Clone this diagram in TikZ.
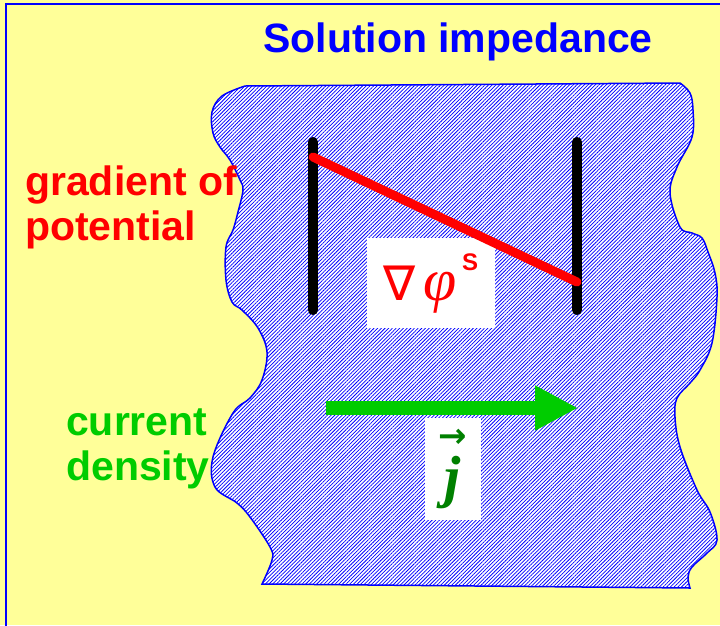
\documentclass[tikz,border=0pt]{standalone}
\definecolor{solyellow}{RGB}{255,255,153}
\definecolor{solblue}{RGB}{0,0,255}
\definecolor{solred}{RGB}{255,0,0}
\definecolor{solgreen}{RGB}{0,204,0}
\definecolor{soldkgreen}{RGB}{0,128,0}
\usepackage{fontspec}
\setmainfont{Liberation Sans}
\newfontfamily\timesfont{Liberation Serif}
\newfontfamily\nablafont{DejaVu Sans}
\usepackage{tikz}
\usetikzlibrary{arrows.meta,positioning,patterns.meta}
\tikzset{
  lbl/.style={font=\fontsize{41}{45}\selectfont\bfseries,text=#1,
              inner sep=0pt,align=left},
  lbl/.default=solred,
  blob/.style={draw=solblue,line width=1.5pt,preaction={fill=white},
               pattern={Lines[angle=45,distance=2.6pt,line width=0.75pt]},
               pattern color=solblue},
  electrode/.style={line width=10pt,line cap=round,black},
  labelbox/.style={rectangle,fill=white,inner sep=0pt,
                   minimum width=#1},
}

\begin{document}
\begin{tikzpicture}[x=1pt,y=-1pt]

  %% Background and frame
  \fill[solyellow] (0,0) rectangle (720,625);
  \useasboundingbox (0,0) rectangle (720,625);
  \draw[solblue,line width=2pt] (6,630) -- (6,3.5) -- (726,3.5);

  %% Title
  \node[lbl=solblue,anchor=base] (title) at (458,52) {Solution impedance};

  %% Solution region
  \draw[blob] (262,584) -- (690,588)
    -- plot[smooth,tension=0.6] coordinates {(690,588) (688,577) (692,567)
       (707,553) (717,540) (710,512) (697,490) (680,447) (675,417)
       (677,398) (690,383) (700,370) (712,343) (717,297) (715,273)
       (708,252) (702,238) (692,233) (680,227) (670,193) (677,167)
       (692,137) (693,110) (690,93) (680,83)}
    -- (245,86)
    -- plot[smooth,tension=0.6] coordinates {(245,86) (222,96) (212,112)
       (213,133) (220,147) (230,160) (240,180) (243,190) (238,212)
       (233,230) (226,247) (226,280) (232,302) (242,310) (258,328)
       (267,352) (262,380) (250,398) (233,413) (213,457) (215,487)
       (237,503) (250,517) (270,547) (272,560) (262,584)}
    -- cycle;

  %% Electrodes
  \coordinate (elLtop) at (313,142);
  \coordinate (elLbot) at (313,310);
  \coordinate (elRtop) at (577,142);
  \coordinate (elRbot) at (577,310);
  \draw[electrode] (elLtop) -- (elLbot);
  \draw[electrode] (elRtop) -- (elRbot);

  %% Potential gradient
  \node[labelbox=128pt,minimum height=90pt] (gradbox) at (431,283)
    {{\nablafont\fontsize{48}{48}\selectfont\color{solred}∇}\kern8pt%
     {\timesfont\itshape\fontsize{60}{60}\selectfont\color{solred}φ}%
     \kern5pt\raisebox{30pt}{\fontsize{24}{24}\selectfont\bfseries\color{solred}S}};
  \coordinate (potL) at (313,157);
  \coordinate (potR) at (577,282);
  \draw[solred,line width=9pt,line cap=round] (potL) -- (potR);

  %% Current density
  \coordinate (jstart) at (326,408);
  \coordinate (jend) at (578,408);
  \draw[solgreen,line width=14pt,-{Triangle[length=43pt,width=42pt]}]
    (jstart) -- (jend);
  \node[labelbox=56pt,minimum height=102pt,align=center,text=soldkgreen]
    (jbox) at (453,469)
    {{\nablafont\bfseries\fontsize{34}{34}\selectfont →}\\[8pt]%
     {\timesfont\bfseries\itshape\fontsize{58}{58}\selectfont j}};

  %% Side labels
  \node[lbl=solred,anchor=base west] (gradlbl) at (25,240)
    {gradient of\\potential};
  \node[lbl=solgreen,anchor=base west] (curlbl) at (66,480)
    {current\\density};

\end{tikzpicture}
\end{document}
